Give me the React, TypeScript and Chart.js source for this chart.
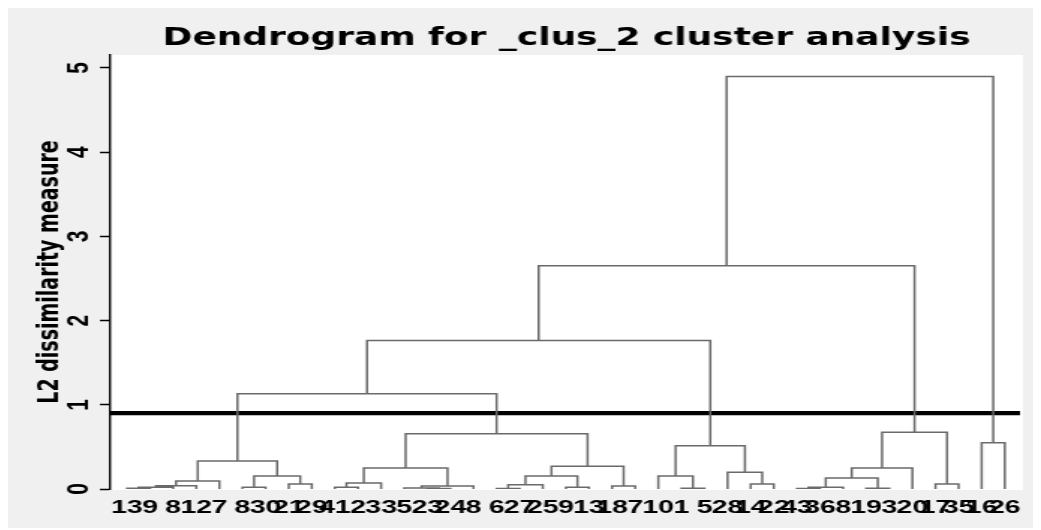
import React, { useEffect, useRef } from "react";
import { Chart, registerables } from "chart.js";

Chart.register(...registerables);

// Leaf labels in plotted order (left to right)
const leafLabels = [
  "13", "9", "8", "12", "7", "8", "30", "21", "29",
  "41", "2", "33", "5", "23", "24", "8",
  "6", "27", "25", "9", "13", "18", "7",
  "10", "1", "5", "28", "14", "22",
  "43", "36", "8", "19", "3", "20", "17", "35",
  "16", "26",
];

// hclust-style merge table: negative = leaf (-1 is first leaf), positive = earlier merge (1-based)
const mergeLeft = [
  -1, 1, 2, 3, -6, -8, 5, 4,
  -10, 9, -14, -13, 12, 10,
  -17, 15, -20, 16, -22, 18, 14, 8,
  -25, -24, -28, -27, 24, 22,
  -30, 29, -33, 30, 32, -36, 33, 28,
  -38, 36,
];
const mergeRight = [
  -2, -3, -4, -5, -7, -9, 6, 7,
  -11, -12, -15, 11, -16, 13,
  -18, -19, -21, 17, -23, 19, 20, 21,
  -26, 23, -29, 25, 26, 27,
  -31, -32, -34, 31, -35, -37, 34, 35,
  -39, 37,
];
const mergeHeight = [
  0.01, 0.02, 0.04, 0.095, 0.02, 0.06, 0.155, 0.333,
  0.02, 0.07, 0.005, 0.012, 0.035, 0.25,
  0.005, 0.05, 0.022, 0.155, 0.035, 0.27, 0.655, 1.13,
  0.01, 0.155, 0.06, 0.2, 0.515, 1.765,
  0.005, 0.02, 0.01, 0.13, 0.25, 0.06, 0.675, 2.65,
  0.55, 4.9,
];

const yTickValues = [0, 1, 2, 3, 4, 5];
const cutHeight = 0.9;
const titleText = "Dendrogram for _clus_2 cluster analysis";
const yAxisTitle = "L2 dissimilarity measure";

const X_MIN = -0.738;
const X_MAX = 38.79;
const CUT_X_END = 38.66;
const Y_MAX = 5.154;

const CANVAS_W = 690;
const CANVAS_H = 523;
const STRETCH = 1034 / 690;

function buildLinks() {
  const nodeX: number[] = [];
  const nodeH: number[] = [];
  const pos = (ref: number) =>
    ref < 0 ? { x: -ref - 1, h: 0 } : { x: nodeX[ref - 1], h: nodeH[ref - 1] };
  const pts: { x: number; y: number | null }[] = [];
  mergeLeft.forEach((l, j) => {
    const a = pos(l);
    const b = pos(mergeRight[j]);
    const h = mergeHeight[j];
    pts.push(
      { x: a.x, y: a.h },
      { x: a.x, y: h },
      { x: b.x, y: h },
      { x: b.x, y: b.h },
      { x: b.x, y: null }
    );
    nodeX.push((a.x + b.x) / 2);
    nodeH.push(h);
  });
  return pts;
}

const bgPlugin = {
  id: "bgPlugin",
  beforeDraw(chart: any) {
    const { ctx, width, height, chartArea } = chart;
    ctx.save();
    ctx.fillStyle = "#f0f0f0";
    ctx.fillRect(0, 0, width, height);
    ctx.fillStyle = "#ffffff";
    ctx.fillRect(
      chartArea.left,
      chartArea.top,
      chartArea.right - chartArea.left,
      chartArea.bottom - chartArea.top + 1
    );
    ctx.restore();
  },
};

export default function App() {
  const ref = useRef<HTMLCanvasElement | null>(null);

  useEffect(() => {
    if (!ref.current) return;
    const chart = new Chart(ref.current, {
      type: "line",
      data: {
        datasets: [
          {
            data: buildLinks() as any,
            borderColor: "#6a6a6a",
            borderWidth: 1.5,
            pointRadius: 0,
            tension: 0,
            spanGaps: false,
            borderJoinStyle: "miter",
          },
          {
            data: [
              { x: X_MIN, y: cutHeight },
              { x: CUT_X_END, y: cutHeight },
            ] as any,
            borderColor: "#000000",
            borderWidth: 4.3,
            pointRadius: 0,
          },
        ],
      },
      options: {
        animation: false,
        responsive: false,
        devicePixelRatio: 1,
        layout: { padding: { left: 0, right: 12, top: 0, bottom: 0 } },
        plugins: {
          legend: { display: false },
          tooltip: { enabled: false },
          title: {
            display: true,
            text: titleText,
            fullSize: false,
            color: "#000000",
            font: { family: "DejaVu Sans", weight: "bold", size: 24 },
            padding: { top: 19, bottom: 2.2 },
          },
        },
        scales: {
          x: {
            type: "linear",
            min: X_MIN,
            max: X_MAX,
            grid: { display: false, drawTicks: false },
            border: { display: false },
            afterBuildTicks: (scale: any) => {
              scale.ticks = leafLabels.map((_, i) => ({ value: i }));
            },
            afterFit: (scale: any) => {
              scale.height = 39;
            },
            ticks: {
              autoSkip: false,
              maxRotation: 0,
              minRotation: 0,
              padding: 7,
              color: "#000000",
              font: { family: "Liberation Sans", weight: "bold", size: 19 },
              callback: (v: any) => leafLabels[Math.round(Number(v))] ?? "",
            },
          },
          y: {
            type: "linear",
            min: 0,
            max: Y_MAX,
            position: "left",
            afterBuildTicks: (scale: any) => {
              scale.ticks = yTickValues.map((v) => ({ value: v }));
            },
            afterFit: (scale: any) => {
              scale.width = 68.7;
            },
            grid: {
              display: true,
              drawOnChartArea: false,
              drawTicks: true,
              tickLength: 6.7,
              tickColor: "#000000",
              tickWidth: 1.5,
            },
            border: { display: true, color: "#000000", width: 1.4 },
            ticks: {
              minRotation: 90,
              maxRotation: 90,
              crossAlign: "center",
              padding: 8,
              color: "#000000",
              font: { family: "Liberation Sans", weight: "bold", size: 21 },
              callback: (v: any) => String(v),
            },
            title: {
              display: true,
              text: yAxisTitle,
              color: "#000000",
              font: { family: "DejaVu Sans", weight: "bold", size: 19 },
              padding: { top: 18, bottom: 0 },
            },
          },
        },
      } as any,
      plugins: [bgPlugin],
    });
    return () => chart.destroy();
  }, []);

  return (
    <div
      style={{
        width: 1034,
        height: CANVAS_H,
        overflow: "hidden",
        margin: "-3px 0 0 -1px",
      }}
    >
      <div
        style={{
          width: CANVAS_W,
          height: CANVAS_H,
          transform: `scaleX(${STRETCH})`,
          transformOrigin: "0 0",
        }}
      >
        <canvas
          ref={ref}
          width={CANVAS_W}
          height={CANVAS_H}
          style={{ display: "block" }}
        />
      </div>
    </div>
  );
}
